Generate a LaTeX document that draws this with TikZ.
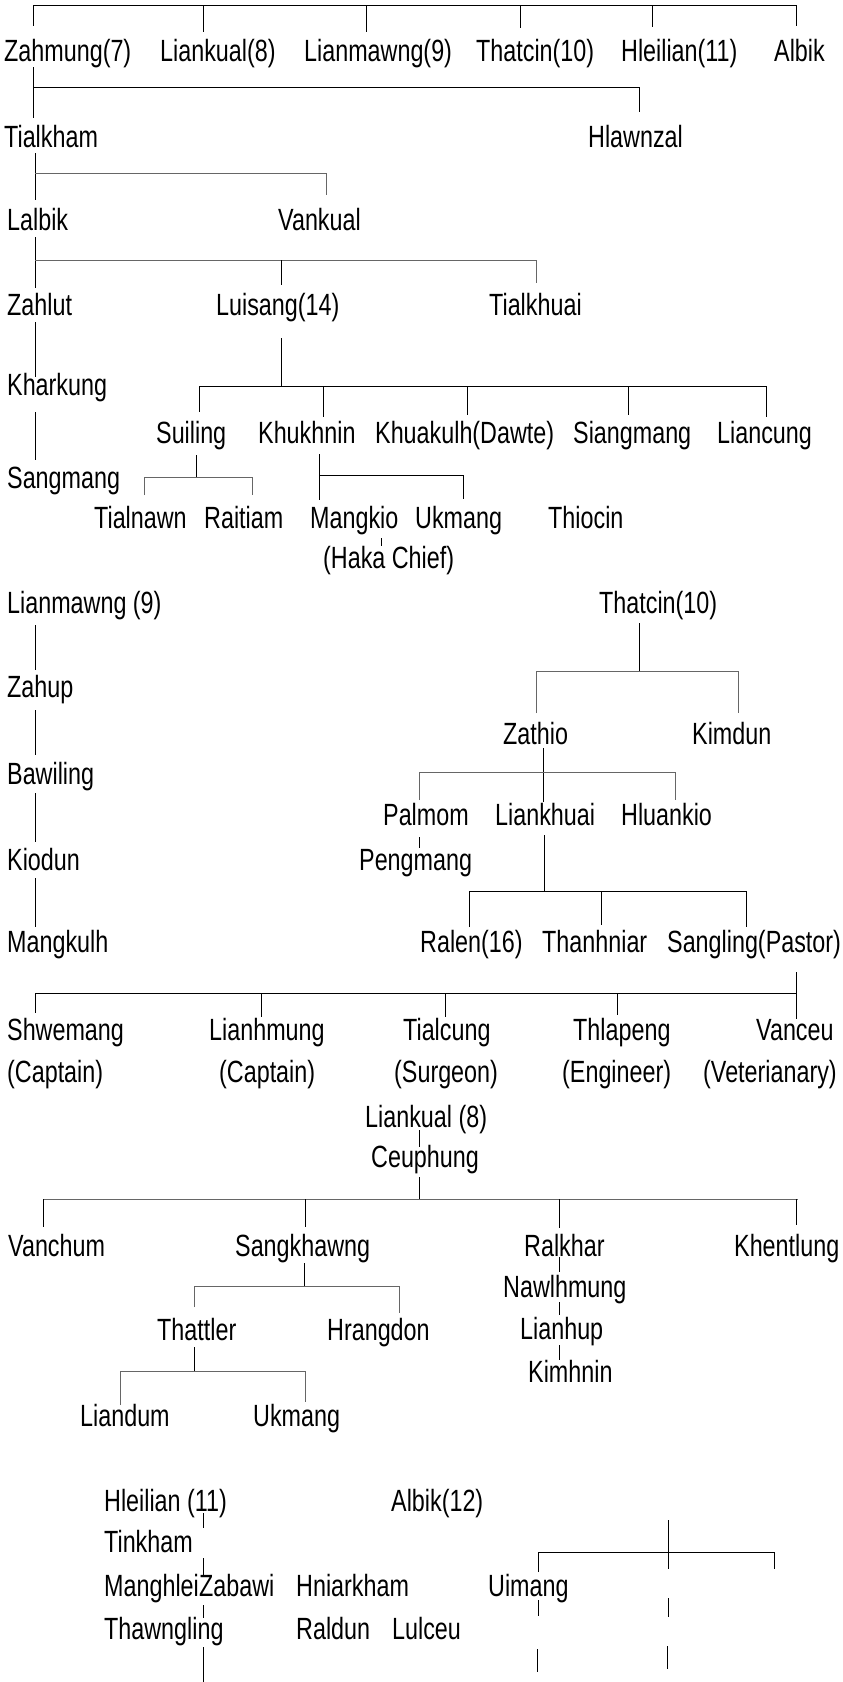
\documentclass[tikz,border=0pt]{standalone}
\usepackage{fontspec}
\setmainfont{Liberation Sans}[FakeStretch=0.76]
\tikzset{
  person/.style={anchor=base west, inner sep=0pt, font=\fontsize{30.7}{34}\selectfont},
  link/.style={line width=1pt},
  faint/.style={link, draw=black!60},
}
\begin{document}
\begin{tikzpicture}[x=1pt,y=-1pt]
\useasboundingbox[fill=white] (0,0) rectangle (843,1682);
\pgfmathsetmacro{\lft}{35}
% first generation
  \draw[link] (33,5) -- (796,5);
  \foreach \x/\y in {33/26,203/32,366/32,520/28,652/27,796/26}
    \draw[link] (\x,5) -- (\x,\y);
  \node[person] (zahmung) at (4,61) {Zahmung(7)};
  \node[person] (liankual) at (160,61) {Liankual(8)};
  \node[person] (lianmawng) at (304,61) {Lianmawng(9)};
  \node[person] (thatcin) at (476,61) {Thatcin(10)};
  \node[person] (hleilian) at (621,61) {Hleilian(11)};
  \node[person] (albik) at (774,61) {Albik};
% Zahmung
  \draw[link] (33,67) -- (33,118);
  \draw[link] (33,87) -- (639,87) -- (639,112);
  \node[person] (tialkham) at (4,147) {Tialkham};
  \node[person] (hlawnzal) at (588,147) {Hlawnzal};
  \draw[link] (\lft,153) -- (\lft,200);
  \draw[faint] (\lft,173) -- (326,173) -- (326,195);
  \node[person] (lalbik) at (7,230) {Lalbik};
  \node[person] (vankual) at (278,230) {Vankual};
  \draw[link] (\lft,237) -- (\lft,288);
  \draw[faint] (\lft,260) -- (536,260) -- (536,283);
  \draw[link] (281,260) -- (281,285);
  \node[person] (zahlut) at (7,315) {Zahlut};
  \node[person] (luisang) at (216,315) {Luisang(14)};
  \node[person] (tialkhuai) at (489,315) {Tialkhuai};
  \draw[link] (\lft,322) -- (\lft,377);
  \node[person] (kharkung) at (7,395) {Kharkung};
  \draw[link] (\lft,412) -- (\lft,460);
  \node[person] (sangmang) at (7,488) {Sangmang};
% Luisang
  \draw[link] (281,338) -- (281,386);
  \draw[link] (199,386) -- (766,386);
  \foreach \x/\y in {199/412,323/417,467/415,628/415,766/417}
    \draw[link] (\x,386) -- (\x,\y);
  \node[person] (suiling) at (156,443) {Suiling};
  \node[person] (khukhnin) at (258,443) {Khukhnin};
  \node[person] (khuakulh) at (375,443) {Khuakulh(Dawte)};
  \node[person] (siangmang) at (573,443) {Siangmang};
  \node[person] (liancung) at (717,443) {Liancung};
  \draw[link] (196,455) -- (196,477);
  \draw[faint] (144,495) -- (144,477) -- (252,477) -- (252,495);
  \draw[link] (319,454) -- (319,500);
  \draw[link] (319,475) -- (463,475) -- (463,499);
  \node[person] (tialnawn) at (94,528) {Tialnawn};
  \node[person] (raitiam) at (204,528) {Raitiam};
  \node[person] (mangkio) at (310,528) {Mangkio};
  \node[person] (ukmang) at (415,528) {Ukmang};
  \node[person] (thiocin) at (548,528) {Thiocin};
  \draw[link] (381,538) -- (381,546);
  \node[person] (hakachief) at (323,568) {(Haka Chief)};
% Lianmawng
  \node[person] (lianmawngB) at (7,613) {Lianmawng (9)};
  \draw[link] (\lft,625) -- (\lft,670);
  \node[person] (zahup) at (7,697) {Zahup};
  \draw[link] (\lft,710) -- (\lft,755);
  \node[person] (bawiling) at (7,784) {Bawiling};
  \draw[link] (\lft,793) -- (\lft,842);
  \node[person] (kiodun) at (7,870) {Kiodun};
  \draw[link] (\lft,878) -- (\lft,927);
  \node[person] (mangkulh) at (7,952) {Mangkulh};
% Thatcin
  \node[person] (thatcinB) at (599,613) {Thatcin(10)};
  \draw[link] (639,623) -- (639,671);
  \draw[faint] (536,713) -- (536,671) -- (738,671) -- (738,713);
  \node[person] (zathio) at (503,744) {Zathio};
  \node[person] (kimdun) at (692,744) {Kimdun};
  \draw[link] (543,748) -- (543,802);
  \draw[faint] (419,800) -- (419,772) -- (675,772) -- (675,800);
  \node[person] (palmom) at (383,825) {Palmom};
  \node[person] (liankhuai) at (495,825) {Liankhuai};
  \node[person] (hluankio) at (621,825) {Hluankio};
  \draw[link] (419,837) -- (419,848);
  \node[person] (pengmang) at (359,870) {Pengmang};
  \draw[link] (544,835) -- (544,891);
  \draw[link] (469,927) -- (469,891) -- (746,891) -- (746,927);
  \draw[link] (601,891) -- (601,925);
  \node[person] (ralen) at (420,952) {Ralen(16)};
  \node[person] (thanhniar) at (542,952) {Thanhniar};
  \node[person] (sangling) at (667,952) {Sangling(Pastor)};
  \draw[link] (796,972) -- (796,1019);
  \draw[link] (\lft,993) -- (796,993);
  \foreach \x/\y in {35/1013,261/1017,445/1017,617/1015}
    \draw[link] (\x,993) -- (\x,\y);
  \node[person] (shwemang) at (7,1040) {Shwemang};
  \node[person] (lianhmung) at (209,1040) {Lianhmung};
  \node[person] (tialcung) at (403,1040) {Tialcung};
  \node[person] (thlapeng) at (573,1040) {Thlapeng};
  \node[person] (vanceu) at (756,1040) {Vanceu};
  \node[person] (captainA) at (7,1082) {(Captain)};
  \node[person] (captainB) at (219,1082) {(Captain)};
  \node[person] (surgeon) at (394,1082) {(Surgeon)};
  \node[person] (engineer) at (562,1082) {(Engineer)};
  \node[person] (vet) at (703,1082) {(Veterianary)};
% Liankual
  \node[person] (liankualB) at (365,1127) {Liankual (8)};
  \draw[link] (419,1130) -- (419,1147);
  \node[person] (ceuphung) at (371,1167) {Ceuphung};
  \draw[link] (419,1177) -- (419,1199);
  \draw[faint] (43,1199) -- (798,1199);
  \foreach \x/\y in {43/1227,305/1227,559/1228,796/1225}
    \draw[link] (\x,1199) -- (\x,\y);
  \node[person] (vanchum) at (8,1256) {Vanchum};
  \node[person] (sangkhawng) at (235,1256) {Sangkhawng};
  \node[person] (ralkhar) at (524,1256) {Ralkhar};
  \node[person] (khentlung) at (734,1256) {Khentlung};
  \draw[link] (304,1263) -- (304,1286);
  \draw[faint] (194,1307) -- (194,1286) -- (399,1286) -- (399,1313);
  \draw[link] (559,1257) -- (559,1272);
  \node[person] (nawlhmung) at (503,1297) {Nawlhmung};
  \draw[link] (559,1302) -- (559,1315);
  \node[person] (lianhup) at (520,1339) {Lianhup};
  \draw[link] (559,1345) -- (559,1360);
  \node[person] (kimhnin) at (528,1382) {Kimhnin};
  \node[person] (thattler) at (157,1340) {Thattler};
  \node[person] (hrangdon) at (327,1340) {Hrangdon};
  \draw[link] (194,1347) -- (194,1371);
  \draw[faint] (120,1405) -- (120,1371) -- (305,1371) -- (305,1402);
  \node[person] (liandum) at (80,1426) {Liandum};
  \node[person] (ukmangB) at (253,1426) {Ukmang};
% Hleilian and Albik
  \node[person] (hleilianB) at (104,1511) {Hleilian (11)};
  \node[person] (albikB) at (391,1511) {Albik(12)};
  \draw[link] (203,1513) -- (203,1528);
  \node[person] (tinkham) at (104,1552) {Tinkham};
  \draw[link] (203,1558) -- (203,1575);
  \node[person] (manghlei) at (104,1596) {Manghlei};
  \node[person] (zabawi) at (199,1596) {Zabawi};
  \node[person] (hniarkham) at (296,1596) {Hniarkham};
  \node[person] (uimang) at (488,1596) {Uimang};
  \draw[link] (203,1605) -- (203,1618);
  \node[person] (thawngling) at (104,1639) {Thawngling};
  \node[person] (raldun) at (296,1639) {Raldun};
  \node[person] (lulceu) at (392,1639) {Lulceu};
  \draw[link] (203,1647) -- (203,1682);
  \draw[link] (668,1520) -- (668,1569);
  \draw[link] (538,1572) -- (538,1552) -- (774,1552) -- (774,1569);
  \draw[link] (538,1600) -- (538,1616);
  \draw[link] (668,1598) -- (668,1617);
  \draw[link] (537,1649) -- (537,1672);
  \draw[link] (667,1646) -- (667,1669);
\end{tikzpicture}
\end{document}
